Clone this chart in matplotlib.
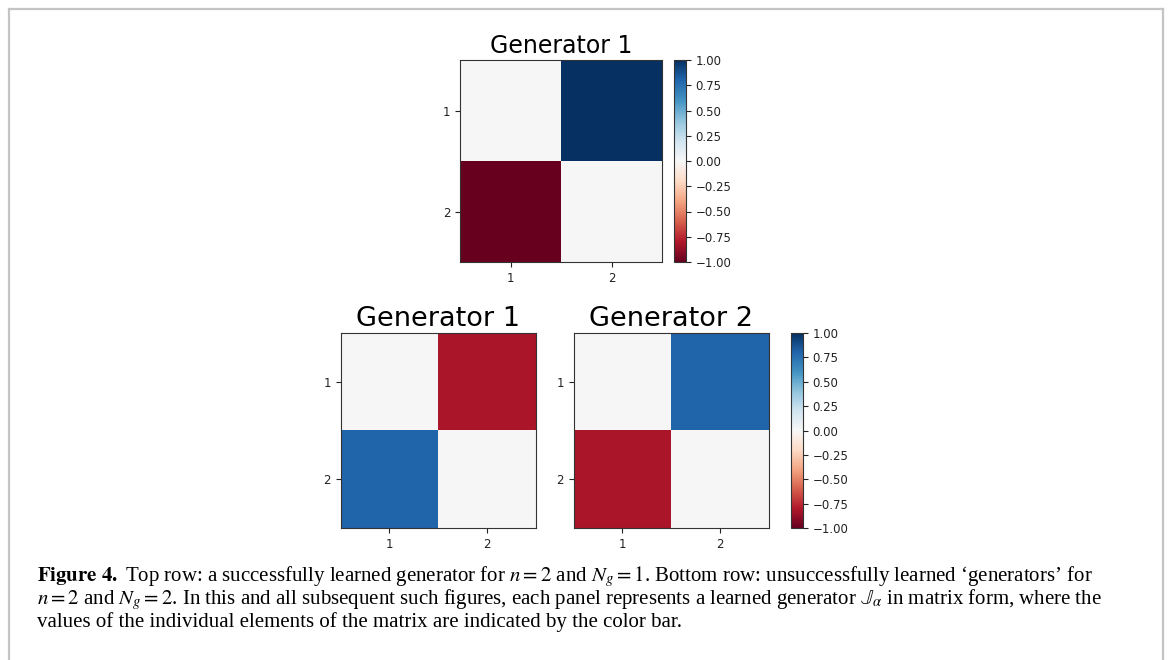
import numpy as np
import matplotlib
matplotlib.use("Agg")
import matplotlib.pyplot as plt
from matplotlib.lines import Line2D

plt.rcParams['mathtext.fontset'] = 'stix'

# learned generators (2x2 matrices)
top_gen = np.array([[0.0, 1.0],
                    [-1.0, 0.0]])
bottom_gen1 = np.array([[0.0, -0.82],
                        [0.80, 0.0]])
bottom_gen2 = np.array([[0.0, 0.80],
                        [-0.82, 0.0]])
tick_labels = ['1', '2']
cbar_ticks = [-1.0, -0.75, -0.5, -0.25, 0.0, 0.25, 0.5, 0.75, 1.0]

W, H = 1168, 660
fig = plt.figure(figsize=(W / 100, H / 100), dpi=100)

def px(x0, y0, x1, y1):
    # pixel box -> figure fraction rect
    return [x0 / W, 1 - y1 / H, (x1 - x0) / W, (y1 - y0) / H]

def panel(rect, mat, title, tsize):
    ax = fig.add_axes(rect)
    im = ax.imshow(mat, cmap='RdBu', vmin=-1, vmax=1, interpolation='nearest')
    ax.set_xticks([0, 1])
    ax.set_yticks([0, 1])
    ax.set_xticklabels(tick_labels)
    ax.set_yticklabels(tick_labels)
    ax.tick_params(labelsize=8.5, length=3.5, colors='#222222')
    for s in ax.spines.values():
        s.set_color('#333333')
    ax.set_title(title, fontsize=tsize, pad=5)
    return ax, im

def colorbar(rect, im):
    cax = fig.add_axes(rect)
    cb = fig.colorbar(im, cax=cax)
    cb.set_ticks(cbar_ticks)
    cb.ax.tick_params(labelsize=8.5, length=3.5, colors='#222222')
    cb.outline.set_edgecolor('#333333')
    return cb

ax0, im0 = panel(px(460, 60, 662, 262), top_gen, 'Generator 1', 17)
colorbar(px(674, 60, 686, 262), im0)

ax1, im1 = panel(px(340, 333, 536, 528), bottom_gen1, 'Generator 1', 19.5)
ax2, im2 = panel(px(573, 333, 769, 528), bottom_gen2, 'Generator 2', 19.5)
colorbar(px(791, 333, 803, 528), im2)

# caption
cap = dict(fontfamily='Liberation Serif', fontsize=15, ha='left', va='baseline')
lines = [
    r"$\mathbf{Figure\ 4.}$ Top row: a successfully learned generator for $n=2$ and $N_g=1$. Bottom row: unsuccessfully learned ‘generators’ for",
    r"$n=2$ and $N_g=2$. In this and all subsequent such figures, each panel represents a learned generator $\mathbb{J}_\alpha$ in matrix form, where the",
    "values of the individual elements of the matrix are indicated by the color bar.",
]
for i, t in enumerate(lines):
    fig.text(37 / W, 1 - (581 + 23 * i) / H, t, **cap)

# frame around the figure
bc = '#c4c4c4'
fig.add_artist(Line2D([9 / W, 9 / W], [0, 1 - 9 / H], color=bc, lw=1.6))
fig.add_artist(Line2D([9 / W, 1163 / W], [1 - 9 / H, 1 - 9 / H], color=bc, lw=1.6))
fig.add_artist(Line2D([1163 / W, 1163 / W], [0, 1 - 9 / H], color=bc, lw=1.6))

fig.savefig('out.png', dpi=100)
